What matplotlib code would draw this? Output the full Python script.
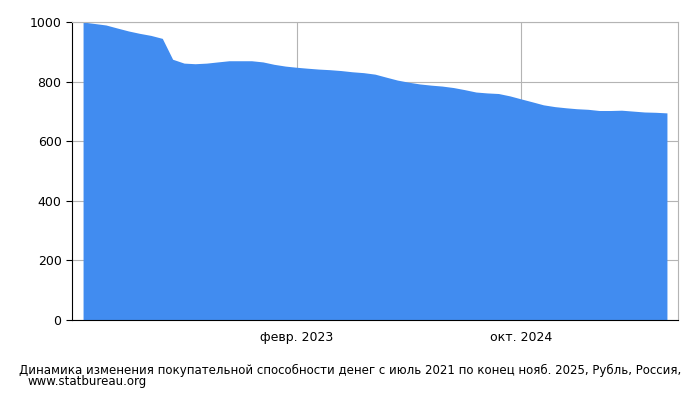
import matplotlib
matplotlib.use("Agg")
import matplotlib.pyplot as plt
import pandas as pd

dates = pd.date_range("2021-07-01", periods=53, freq="MS")
values = [1000, 995, 990, 980, 970, 962, 955, 945, 875, 862, 860, 862, 866, 870, 870, 870,
          866, 858, 852, 848, 845, 842, 840, 837, 833, 830, 825, 815, 805, 798, 792, 788,
          785, 780, 773, 765, 762, 760, 752, 742, 732, 722, 716, 712, 709, 707, 703, 703,
          704, 701, 698, 697, 695]
tick_dates = [pd.Timestamp("2023-02-01"), pd.Timestamp("2024-10-01")]
tick_labels = ["февр. 2023", "окт. 2024"]

fig = plt.figure(figsize=(7, 4), dpi=100)
ax = fig.add_axes([72/700, 80/400, 606/700, 298/400])
ax.fill_between(dates, values, 0, color="#418cf0", linewidth=0, zorder=2)
ax.set_xlim(pd.Timestamp("2021-06-01"), pd.Timestamp("2025-12-01"))
ax.set_ylim(0, 1000)
ax.set_yticks([0, 200, 400, 600, 800, 1000])
ax.set_xticks(tick_dates)
ax.set_xticklabels(tick_labels)
ax.grid(True, color="#b4b4b4", linewidth=0.8, zorder=1)
ax.set_axisbelow(True)
for s in ["top", "right"]:
    ax.spines[s].set_color("#b4b4b4")
ax.tick_params(labelsize=9, length=4)
ax.tick_params(axis="x", length=0, pad=8)
fig.text(0.5, 1 - 370/400, "Динамика изменения покупательной способности денег с июль 2021 по конец нояб. 2025, Рубль, Россия,",
         ha="center", va="center", fontsize=8.5)
fig.text(28/700, 1 - 381/400, "www.statbureau.org", ha="left", va="center", fontsize=8.5)
fig.savefig("out.png")
